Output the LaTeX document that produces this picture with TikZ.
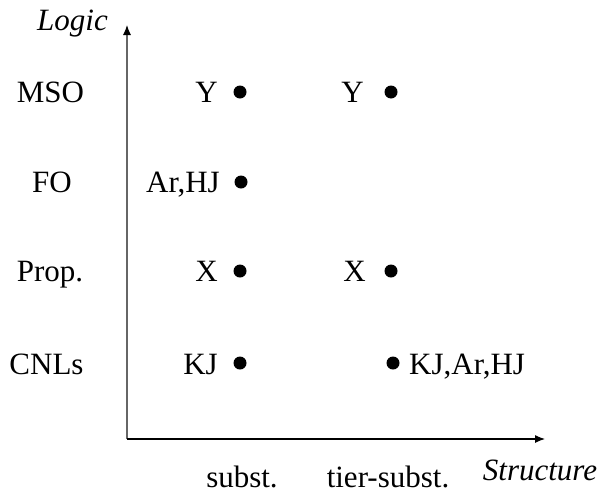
\documentclass[tikz,border=0pt]{standalone}
\usepackage{fontspec}
\setmainfont{Liberation Serif}
\usetikzlibrary{arrows.meta}
\begin{document}
\begin{tikzpicture}[x=1pt,y=-1pt,
  lbl/.style={font=\fontsize{31}{36}\selectfont, inner sep=0pt},
  ital/.style={lbl, font=\fontsize{31}{36}\selectfont\itshape},
  dot/.style={circle, fill=black, inner sep=0pt, minimum size=13pt},
  axis/.style={line width=1.1pt, -{Latex[length=10pt,width=8pt]}}]
\useasboundingbox (0,0) rectangle (602,493);
% axes
\coordinate (o) at (127,439);
\coordinate (ytip) at (127,25);
\coordinate (xtip) at (545,439);
\draw[axis, draw=black!60, -{Latex[length=10pt,width=8pt,fill=black,color=black]}] (o) -- (ytip);
\draw[axis] (o) -- (xtip);
% axis titles
\node[ital, anchor=base] (logic) at (72.5,30) {Logic};
\node[ital, anchor=base] (structure) at (540,480) {Structure};
% row labels
\node[lbl, anchor=base] (mso) at (50.5,102) {MSO};
\node[lbl, anchor=base] (fo) at (52,192) {FO};
\node[lbl, anchor=base] (prop) at (50,281) {Prop.};
\node[lbl, anchor=base] (cnl) at (46.5,374) {CNLs};
% column labels
\node[lbl, anchor=base] (subst) at (242,487) {subst.};
\node[lbl, anchor=base] (tier) at (388,487) {tier-subst.};
% dots column 1
\node[dot] (d11) at (240,92) {};
\node[dot] (d12) at (241,182) {};
\node[dot] (d13) at (240,271) {};
\node[dot] (d14) at (240,363) {};
% dots column 2
\node[dot] (d21) at (391,92) {};
\node[dot] (d23) at (391,271) {};
\node[dot] (d24) at (393,363) {};
% entries
\node[lbl, anchor=base east] (y1) at (218,102) {Y};
\node[lbl, anchor=base east] (arhj) at (220,192) {Ar,HJ};
\node[lbl, anchor=base east] (x1) at (218,281) {X};
\node[lbl, anchor=base east] (kj) at (218,374) {KJ};
\node[lbl, anchor=base east] (y2) at (364,102) {Y};
\node[lbl, anchor=base east] (x2) at (366,281) {X};
\node[lbl, anchor=base west] (kjarhj) at (409,374) {KJ,Ar,HJ};
\end{tikzpicture}
\end{document}
